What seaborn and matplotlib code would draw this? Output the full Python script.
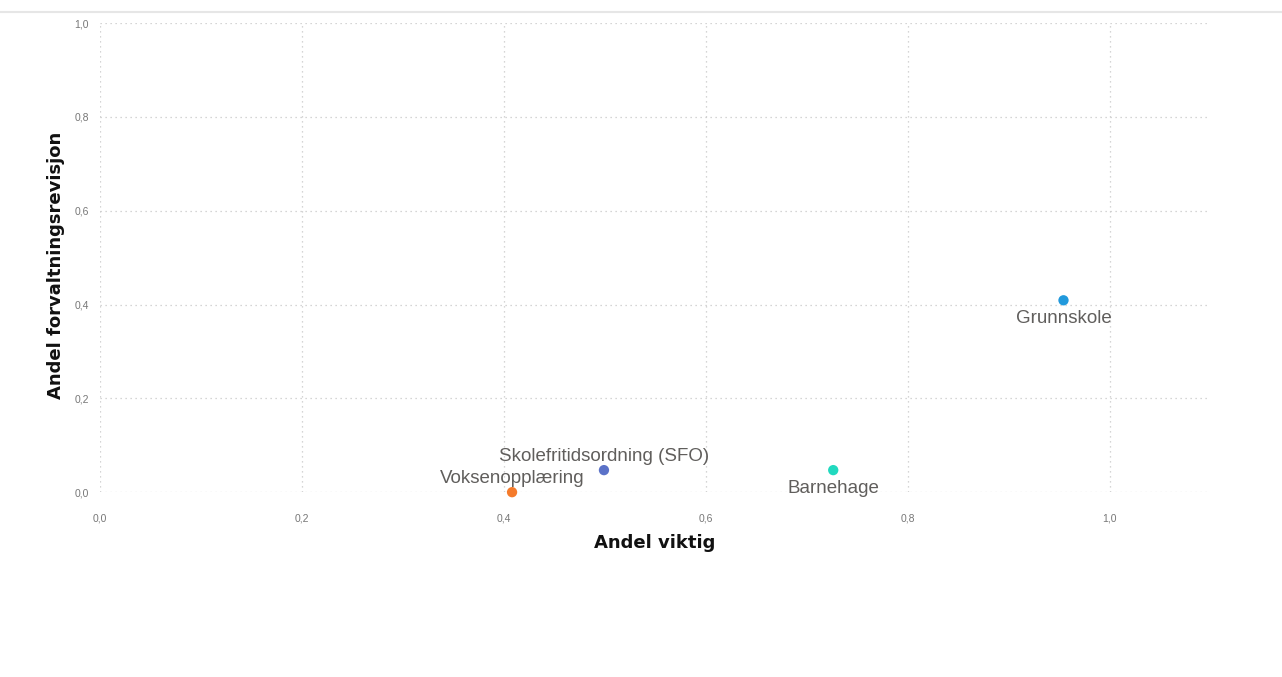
import pandas as pd
import matplotlib.pyplot as plt
import seaborn as sns
from matplotlib.lines import Line2D

# Data
kategorier = ["Voksenopplæring", "Skolefritidsordning (SFO)", "Barnehage", "Grunnskole"]
andel_viktig = [0.408, 0.499, 0.726, 0.954]
andel_forvaltningsrevisjon = [0.0, 0.047, 0.047, 0.409]
farger = ["#F57B2B", "#5B72C8", "#21D9BF", "#2199DC"]
x_ticks = [0.0, 0.2, 0.4, 0.6, 0.8, 1.0]
y_ticks = [0.0, 0.2, 0.4, 0.6, 0.8, 1.0]

df = pd.DataFrame({
    "kategori": kategorier,
    "viktig": andel_viktig,
    "revisjon": andel_forvaltningsrevisjon,
})

sns.set_style("white")
plt.rcParams["font.family"] = ["Liberation Sans", "DejaVu Sans"]

fig = plt.figure(figsize=(12.82, 6.77), dpi=100)
ax = fig.add_axes([0.078, 0.273, 0.865, 0.693])

sns.scatterplot(data=df, x="viktig", y="revisjon", hue="kategori",
                palette=dict(zip(kategorier, farger)), s=55, edgecolor="none",
                legend=False, ax=ax, clip_on=False, zorder=3)

# labels over or under the points
forskyvning = {"Voksenopplæring": 10, "Skolefritidsordning (SFO)": 10,
               "Barnehage": -13, "Grunnskole": -13}
for _, rad in df.iterrows():
    ax.annotate(rad["kategori"], (rad["viktig"], rad["revisjon"]),
                xytext=(0, forskyvning[rad["kategori"]]), textcoords="offset points",
                ha="center", va="center", fontsize=13.5, color="#605E5C")

ax.set_xlim(0, 1.098)
ax.set_ylim(0, 1.0)
ax.set_xticks(x_ticks)
ax.set_yticks(y_ticks)
ax.set_xticklabels([f"{v:.1f}".replace(".", ",") for v in x_ticks])
ax.set_yticklabels([f"{v:.1f}".replace(".", ",") for v in y_ticks])
ax.tick_params(axis="both", length=0, labelsize=7.5, labelcolor="#777777")
ax.tick_params(axis="x", pad=15)
ax.tick_params(axis="y", pad=8)
ax.grid(True, linestyle=(0, (1, 3)), color="#C8C8C8", linewidth=0.9)
for s in ax.spines.values():
    s.set_visible(False)

ax.set_xlabel("Andel viktig", fontsize=13, fontweight="bold", color="#111111",
              labelpad=8, family="DejaVu Sans")
ax.set_ylabel("Andel forvaltningsrevisjon", fontsize=13, fontweight="bold",
              color="#111111", family="DejaVu Sans")
ax.yaxis.set_label_coords(-0.032, 0.484)

# thin line along the top of the visual
fig.add_artist(Line2D([0.0, 1.0], [0.982, 0.982], color="#E6E6E6", linewidth=1.5))

fig.savefig("out.png", dpi=100)
